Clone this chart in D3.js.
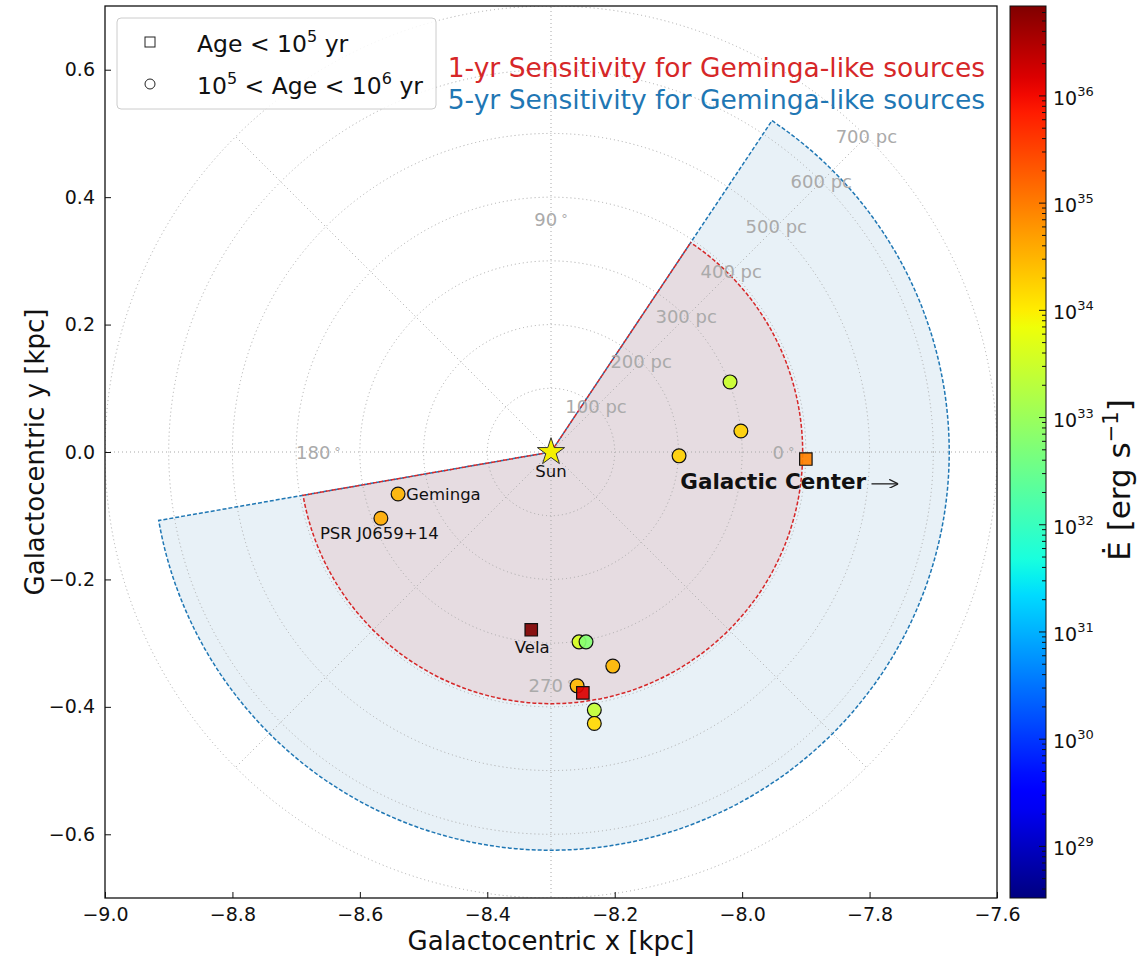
<!DOCTYPE html>
<html>
<head>
<meta charset="utf-8">
<script src="https://cdn.jsdelivr.net/npm/d3@7"></script>
<style>
  body { margin: 0; background: #fff; }
  svg text { font-family: "DejaVu Sans", sans-serif; }
</style>
</head>
<body>
<div id="chart"></div>
<script>
// ---- data ----
var sunX = -8.3, sunY = 0.0;
var sectorTheta = [-170.1, 56.3];          // deg, 0 = toward GC
var radius1yr = 0.395, radius5yr = 0.625;  // kpc
var gridRadii = [0.1, 0.2, 0.3, 0.4, 0.5, 0.6, 0.7];
var gridRadiiLabels = ["100 pc", "200 pc", "300 pc", "400 pc", "500 pc", "600 pc", "700 pc"];
var gridAngles = [0, 45, 90, 135, 180, 225, 270, 315];
var angleLabels = [0, 90, 180, 270];

// pulsars: x, y (kpc), Edot (erg/s), age class ("young" = square, "mid" = circle)
var psrX    = [-8.540, -8.567, -8.099, -8.019, -8.002, -7.900, -8.331, -8.256, -8.245, -8.203, -8.259, -8.250, -8.232, -8.232];
var psrY    = [-0.066, -0.104, -0.006,  0.110,  0.033, -0.011, -0.279, -0.298, -0.298, -0.336, -0.367, -0.378, -0.405, -0.426];
var psrEdot = [3.2e34, 3.8e34, 1.8e34, 3e33, 1.8e34, 9e34, 6.9e36, 4e33, 6e32, 3e34, 3e34, 1.5e36, 2.5e33, 1.5e34];
var psrAge  = ["mid","mid","mid","mid","mid","young","young","mid","mid","mid","mid","young","mid","mid"];
var psrName = ["Geminga","PSR J0659+14","","","","","Vela","","","","","","",""];

var edotMin = 3.3e28, edotMax = 6.9e36;
var cbarMajor = [1e29, 1e30, 1e31, 1e32, 1e33, 1e34, 1e35, 1e36];

var xTicks = [-9.0, -8.8, -8.6, -8.4, -8.2, -8.0, -7.8, -7.6];
var yTicks = [-0.6, -0.4, -0.2, 0.0, 0.2, 0.4, 0.6];

// ---- layout ----
var W = 1148, H = 956;
var pL = 105, pR = 997, pT = 6, pB = 898;

var svg = d3.select("#chart").append("svg")
    .attr("width", W).attr("height", H);

var x = d3.scaleLinear().domain([-9.0, -7.6]).range([pL, pR]);
var y = d3.scaleLinear().domain([-0.7, 0.7]).range([pB, pT]);
var k = x(1) - x(0); // px per kpc

function pol(r, th) {
  var a = th * Math.PI / 180;
  return [x(sunX + r * Math.cos(a)), y(sunY + r * Math.sin(a))];
}

// matplotlib jet
function seg(pts, t) {
  for (var i = 1; i < pts.length; i++) {
    if (t <= pts[i][0]) {
      var f = (t - pts[i-1][0]) / (pts[i][0] - pts[i-1][0]);
      return pts[i-1][1] + f * (pts[i][1] - pts[i-1][1]);
    }
  }
  return pts[pts.length-1][1];
}
var jR = [[0,0],[0.35,0],[0.66,1],[0.89,1],[1,0.5]],
    jG = [[0,0],[0.125,0],[0.375,1],[0.64,1],[0.91,0],[1,0]],
    jB = [[0,0.5],[0.11,1],[0.34,1],[0.65,0],[1,0]];
function jet(t) {
  t = Math.max(0, Math.min(1, t));
  return d3.rgb(255*seg(jR,t), 255*seg(jG,t), 255*seg(jB,t)).formatHex();
}
var cnorm = d3.scaleLog().domain([edotMin, edotMax]).range([0, 1]);
function color(v) { return jet(cnorm(v)); }

var defs = svg.append("defs");
defs.append("clipPath").attr("id", "plotclip")
  .append("rect").attr("x", pL).attr("y", pT)
  .attr("width", pR - pL).attr("height", pB - pT);

var plot = svg.append("g").attr("clip-path", "url(#plotclip)");

// ---- sectors ----
function sectorPath(r) {
  return d3.arc()
    .innerRadius(0).outerRadius(r * k)
    .startAngle((90 - sectorTheta[1]) * Math.PI / 180)
    .endAngle((90 - sectorTheta[0]) * Math.PI / 180)();
}
var cx = x(sunX), cy = y(sunY);

plot.append("path").attr("d", sectorPath(radius5yr))
    .attr("transform", "translate(" + cx + "," + cy + ")")
    .attr("fill", "#1f77b4").attr("fill-opacity", 0.1);
plot.append("path").attr("d", sectorPath(radius1yr))
    .attr("transform", "translate(" + cx + "," + cy + ")")
    .attr("fill", "#d62728").attr("fill-opacity", 0.1);

// ---- polar grid ----
var grid = plot.append("g")
  .attr("fill", "none").attr("stroke", "#a8a8a8")
  .attr("stroke-width", 1).attr("stroke-dasharray", "1,3");
grid.selectAll("circle").data(gridRadii).enter().append("circle")
  .attr("cx", cx).attr("cy", cy).attr("r", function(d) { return d * k; });
grid.selectAll("line").data(gridAngles).enter().append("line")
  .attr("x1", cx).attr("y1", cy)
  .attr("x2", function(d) { return pol(0.7, d)[0]; })
  .attr("y2", function(d) { return pol(0.7, d)[1]; });

// sector outlines
plot.append("path").attr("d", sectorPath(radius5yr))
    .attr("transform", "translate(" + cx + "," + cy + ")")
    .attr("fill", "none").attr("stroke", "#1f77b4")
    .attr("stroke-width", 1.5).attr("stroke-dasharray", "4,2");
plot.append("path").attr("d", sectorPath(radius1yr))
    .attr("transform", "translate(" + cx + "," + cy + ")")
    .attr("fill", "none").attr("stroke", "#d62728")
    .attr("stroke-width", 1.5).attr("stroke-dasharray", "4,2")
    .attr("stroke-dashoffset", 3);

// grid labels
plot.selectAll(".rlab").data(gridRadii).enter().append("text")
  .attr("class", "rlab")
  .attr("x", function(d) { return pol(d, 45)[0]; })
  .attr("y", function(d) { return pol(d, 45)[1] + 6; })
  .attr("text-anchor", "middle").attr("font-size", 18).attr("fill", "#aaaaaa")
  .text(function(d, i) { return gridRadiiLabels[i]; });

var alab = plot.selectAll(".alab").data(angleLabels).enter().append("text")
  .attr("class", "alab")
  .attr("x", function(d) { return pol(0.365, d)[0]; })
  .attr("y", function(d) { return pol(0.365, d)[1] + 7; })
  .attr("text-anchor", "middle").attr("font-size", 18).attr("fill", "#aaaaaa");
alab.append("tspan").text(function(d) { return d; });
alab.append("tspan").attr("dx", 4).attr("dy", -3).attr("font-size", 13).text("\u00b0");

// ---- pulsars ----
var pts = psrX.map(function(d, i) {
  return {x: d, y: psrY[i], e: psrEdot[i], age: psrAge[i], name: psrName[i]};
});
plot.selectAll(".psr").data(pts).enter().append("path")
  .attr("class", "psr")
  .attr("transform", function(d) { return "translate(" + x(d.x) + "," + y(d.y) + ")"; })
  .attr("d", function(d) {
    return d.age == "young" ? d3.symbol(d3.symbolSquare, 155)() : d3.symbol(d3.symbolCircle, 150)();
  })
  .attr("fill", function(d) { return color(d.e); })
  .attr("fill-opacity", 0.92)
  .attr("stroke", "#111").attr("stroke-width", 1.2);

// Sun
plot.append("path")
  .attr("transform", "translate(" + cx + "," + cy + ")")
  .attr("d", d3.symbol(d3.symbolStar, 230)())
  .attr("fill", "#f5f000").attr("stroke", "#333").attr("stroke-width", 1);

// labels
var lab = plot.append("g").attr("fill", "#111").attr("font-size", 16.5);
lab.append("text").attr("x", cx).attr("y", cy + 25).attr("text-anchor", "middle").text("Sun");
lab.append("text").attr("x", x(psrX[0]) + 8).attr("y", y(psrY[0]) + 6).text(psrName[0]);
lab.append("text").attr("x", x(psrX[1]) - 61).attr("y", y(psrY[1]) + 21).text(psrName[1]);
lab.append("text").attr("x", x(psrX[6]) + 1).attr("y", y(psrY[6]) + 23).attr("text-anchor", "middle").text(psrName[6]);

plot.append("text")
  .attr("x", x(-8.097)).attr("y", y(-0.045) + 8)
  .attr("font-size", 21.5).attr("font-weight", "bold").attr("fill", "#111")
  .text("Galactic Center");

defs.append("marker")
  .attr("id", "arr").attr("viewBox", "0 0 10 10")
  .attr("refX", 10).attr("refY", 5)
  .attr("markerWidth", 9).attr("markerHeight", 9).attr("markerUnits", "userSpaceOnUse")
  .attr("orient", "auto")
  .append("path").attr("d", "M0,0 L10,5 L0,10").attr("fill", "none")
  .attr("stroke", "#222").attr("stroke-width", 1.4);
plot.append("line")
  .attr("x1", x(-7.797)).attr("y1", y(-0.050))
  .attr("x2", x(-7.755)).attr("y2", y(-0.050))
  .attr("stroke", "#222").attr("stroke-width", 1.3)
  .attr("marker-end", "url(#arr)");

// sensitivity texts
svg.append("text").attr("x", 985).attr("y", 77).attr("text-anchor", "end")
  .attr("font-size", 26.5).attr("fill", "#d62728")
  .text("1-yr Sensitivity for Geminga-like sources");
svg.append("text").attr("x", 985).attr("y", 109).attr("text-anchor", "end")
  .attr("font-size", 26.5).attr("fill", "#1f77b4")
  .text("5-yr Sensitivity for Geminga-like sources");

// legend
var leg = svg.append("g");
leg.append("rect").attr("x", 117).attr("y", 18).attr("width", 319).attr("height", 91)
  .attr("rx", 4).attr("fill", "#fff").attr("fill-opacity", 0.85)
  .attr("stroke", "#cccccc").attr("stroke-width", 1);
leg.append("rect").attr("x", 145).attr("y", 37).attr("width", 10).attr("height", 10)
  .attr("fill", "#fff").attr("stroke", "#222").attr("stroke-width", 1);
leg.append("circle").attr("cx", 150).attr("cy", 84).attr("r", 5)
  .attr("fill", "#fff").attr("stroke", "#222").attr("stroke-width", 1);
var t1 = leg.append("text").attr("x", 197).attr("y", 52).attr("font-size", 23.5).attr("fill", "#111");
t1.append("tspan").text("Age < 10");
t1.append("tspan").attr("dy", -10).attr("font-size", 16).text("5");
t1.append("tspan").attr("dy", 10).text(" yr");
var t2 = leg.append("text").attr("x", 197).attr("y", 94).attr("font-size", 23.5).attr("fill", "#111");
t2.append("tspan").text("10");
t2.append("tspan").attr("dy", -10).attr("font-size", 16).text("5");
t2.append("tspan").attr("dy", 10).text(" < Age < 10");
t2.append("tspan").attr("dy", -10).attr("font-size", 16).text("6");
t2.append("tspan").attr("dy", 10).text(" yr");

// ---- axes ----
var xAxis = svg.append("g").attr("transform", "translate(0," + pB + ")")
  .call(d3.axisBottom(x).tickValues(xTicks).tickSize(-6).tickPadding(10).tickFormat(d3.format(".1f")));
var yAxis = svg.append("g").attr("transform", "translate(" + pL + ",0)")
  .call(d3.axisLeft(y).tickValues(yTicks).tickSize(-6).tickPadding(10).tickFormat(d3.format(".1f")));
[xAxis, yAxis].forEach(function(a) {
  a.select(".domain").remove();
  a.selectAll("text").attr("font-size", 19).attr("fill", "#111").style("font-family", "DejaVu Sans");
  a.selectAll("line").attr("stroke", "#111").attr("stroke-width", 1);
});
svg.append("rect").attr("x", pL).attr("y", pT)
  .attr("width", pR - pL).attr("height", pB - pT)
  .attr("fill", "none").attr("stroke", "#111").attr("stroke-width", 1.3);

svg.append("text").attr("x", (pL + pR) / 2).attr("y", 950)
  .attr("text-anchor", "middle").attr("font-size", 26).attr("fill", "#111")
  .text("Galactocentric x [kpc]");
svg.append("text")
  .attr("transform", "translate(44," + ((pT + pB) / 2) + ") rotate(-90)")
  .attr("text-anchor", "middle").attr("font-size", 26).attr("fill", "#111")
  .text("Galactocentric y [kpc]");

// ---- colorbar ----
var cbL = 1010, cbR = 1046;
var cb = d3.scaleLog().domain([edotMin, edotMax]).range([pB, pT]);
var grad = defs.append("linearGradient").attr("id", "jetgrad")
  .attr("x1", 0).attr("y1", 1).attr("x2", 0).attr("y2", 0);
d3.range(0, 1.0001, 0.02).forEach(function(t) {
  grad.append("stop").attr("offset", t).attr("stop-color", jet(t));
});
svg.append("rect").attr("x", cbL).attr("y", pT).attr("width", cbR - cbL).attr("height", pB - pT)
  .attr("fill", "url(#jetgrad)").attr("stroke", "#111").attr("stroke-width", 1);

var minor = [];
for (var p = 28; p <= 36; p++) {
  for (var m = 2; m <= 9; m++) {
    var v = m * Math.pow(10, p);
    if (v > edotMin && v < edotMax) minor.push(v);
  }
}
svg.selectAll(".cbminor").data(minor).enter().append("line")
  .attr("x1", cbR).attr("x2", cbR - 4)
  .attr("y1", function(d) { return cb(d); }).attr("y2", function(d) { return cb(d); })
  .attr("stroke", "#111").attr("stroke-width", 1);
svg.selectAll(".cbmajor").data(cbarMajor).enter().append("line")
  .attr("x1", cbR).attr("x2", cbR - 7)
  .attr("y1", function(d) { return cb(d); }).attr("y2", function(d) { return cb(d); })
  .attr("stroke", "#111").attr("stroke-width", 1);
var cbt = svg.selectAll(".cbtxt").data(cbarMajor).enter().append("text")
  .attr("x", cbR + 7).attr("y", function(d) { return cb(d) + 9; })
  .attr("font-size", 19).attr("fill", "#111");
cbt.append("tspan").text("10");
cbt.append("tspan").attr("dy", -9).attr("font-size", 13)
  .text(function(d) { return Math.round(Math.log10(d)); });

var cbl = svg.append("text")
  .attr("transform", "translate(1130,480) rotate(-90)")
  .attr("text-anchor", "middle").attr("font-size", 31).attr("fill", "#111");
cbl.append("tspan").text("\u0116 [erg s");
cbl.append("tspan").attr("dy", -12).attr("font-size", 21).text("\u22121");
cbl.append("tspan").attr("dy", 12).text("]");
</script>
</body>
</html>
